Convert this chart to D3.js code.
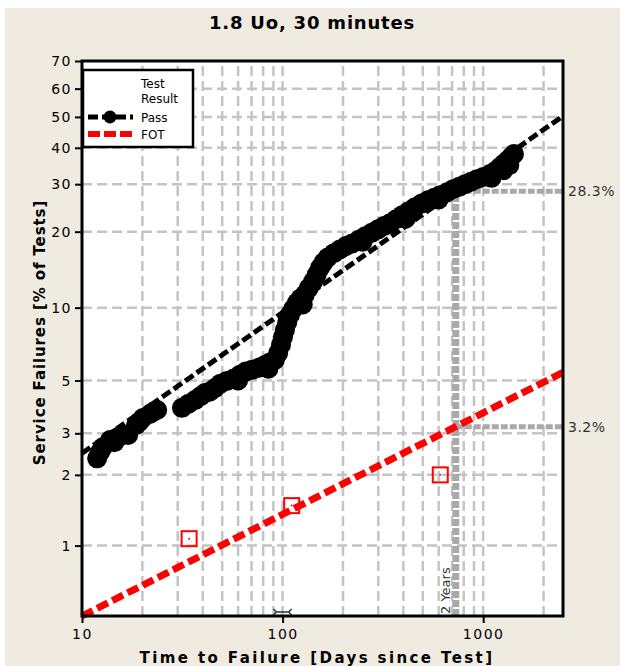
<!DOCTYPE html>
<html>
<head>
<meta charset="utf-8">
<script src="https://cdn.jsdelivr.net/npm/d3@7"></script>
<style>
  body { margin: 0; background: #fff; }
  svg { display: block; }
</style>
</head>
<body>
<div id="chart"></div>
<script>
// pass (service failures after passing test): days, % failed
const passDays = [11.9, 12.3, 12.7, 13.8, 14.5, 15.1, 16.0, 17.0, 18.6, 19.3, 20.1, 21.8, 22.7, 23.7,
  31.5, 34.0, 36.6, 39.0, 41.0, 43.5, 46.0, 49.0, 52.8, 57.0, 61.3, 65.5, 70.4, 76.0, 81.7, 86.5,
  91.6, 95.0, 98.2, 100.5, 102.8, 105.5, 108.9, 113, 118, 123, 129, 135, 142, 148, 154, 160, 168,
  180, 193, 207, 222, 240, 258, 278, 299, 320, 343, 368, 394, 425, 457, 493, 531, 570, 609, 658,
  707, 760, 812, 870, 931, 1000, 1081, 1150, 1213, 1270, 1329, 1380, 1424,
  60, 85, 126, 250, 410, 600, 1100, 1260, 1350];
const passPct = [2.35, 2.5, 2.62, 2.81, 2.75, 2.89, 2.95, 2.95, 3.25, 3.35, 3.48, 3.62, 3.70, 3.76,
  3.84, 4.00, 4.14, 4.30, 4.43, 4.50, 4.65, 4.85, 4.98, 5.10, 5.28, 5.45, 5.54, 5.65, 5.81, 5.95,
  6.10, 6.50, 7.04, 7.60, 8.12, 8.70, 9.36, 9.90, 10.48, 10.90, 11.29, 12.00, 12.74, 13.60, 14.49,
  15.20, 15.88, 16.50, 17.07, 17.60, 18.02, 18.60, 19.19, 19.80, 20.41, 21.00, 21.52, 22.30, 23.07,
  23.90, 24.73, 25.50, 26.24, 26.80, 27.37, 28.00, 28.78, 29.40, 30.00, 30.60, 31.26, 31.80, 32.56,
  33.40, 34.44, 35.40, 36.39, 37.30, 38.14,
  5.0, 5.6, 10.3, 18.3, 22.4, 26.4, 31.6, 33.6, 35.0];

// failed on test
const fotDays = [34.2, 111, 611];
const fotPct = [1.07, 1.48, 2.0];

// weibull fit lines (end points)
const passFit = [[10, 2.47], [2500, 50.3]];
const fotFit = [[10, 0.5], [2500, 5.41]];

// 2 year reference
const refDays = 730;
const refPct = [28.3, 3.2];

const xTicks = [10, 100, 1000];
const xGrid = [20, 30, 40, 50, 60, 70, 80, 90, 100, 200, 300, 400, 500, 600, 700, 800, 900, 1000, 2000];
const yTicks = [1, 2, 3, 5, 10, 20, 30, 40, 50, 60, 70];
const yGrid = [1, 2, 3, 5, 10, 20, 30, 40, 50, 60];

const W = 620, H = 666;
const pL = 82, pR = 563, pT = 61, pB = 616;

// weibull probability transform
const wb = p => Math.log(-Math.log(1 - p / 100));

const x = d3.scaleLog().domain([10, 2500]).range([pL, pR]);
const y = d3.scaleLinear().domain([wb(0.5), wb(70)]).range([pB, pT]);
const yp = p => y(wb(p));

const svg = d3.select("#chart").append("svg")
  .attr("width", W)
  .attr("height", H)
  .style("font-family", "'DejaVu Sans', Verdana, sans-serif");

// beige background
svg.append("rect")
  .attr("x", 5).attr("y", 8)
  .attr("width", W - 5).attr("height", H - 8)
  .attr("fill", "#efebe1");

svg.append("rect")
  .attr("x", pL).attr("y", pT)
  .attr("width", pR - pL).attr("height", pB - pT)
  .attr("fill", "#fff");

// grid
const grid = svg.append("g")
  .attr("stroke", "#c4c4c4")
  .attr("stroke-width", 2.5)
  .attr("stroke-dasharray", "10,5");

grid.selectAll(".vg")
  .data(xGrid)
  .join("line")
  .attr("x1", d => x(d)).attr("x2", d => x(d))
  .attr("y1", pB).attr("y2", pT);

grid.selectAll(".hg")
  .data(yGrid)
  .join("line")
  .attr("x1", pL).attr("x2", pR)
  .attr("y1", d => yp(d)).attr("y2", d => yp(d));

// reference lines at 2 years
const ref = svg.append("g")
  .attr("stroke", "#a9a9a9")
  .attr("fill", "none");

ref.append("line")
  .attr("x1", x(refDays)).attr("x2", x(refDays))
  .attr("y1", pB).attr("y2", yp(refPct[0]))
  .attr("stroke-width", 7)
  .attr("stroke-dasharray", "7,2");

ref.selectAll(".hr")
  .data(refPct)
  .join("line")
  .attr("x1", x(refDays)).attr("x2", pR)
  .attr("y1", d => yp(d)).attr("y2", d => yp(d))
  .attr("stroke-width", 5)
  .attr("stroke-dasharray", "7,2");

svg.selectAll(".reflab")
  .data(refPct)
  .join("text")
  .attr("x", pR + 5)
  .attr("y", d => yp(d) + 5)
  .attr("font-size", 14)
  .attr("letter-spacing", 0.5)
  .attr("fill", "#333")
  .text(d => d + "%");

svg.append("text")
  .attr("transform", `translate(${x(refDays) - 6},${pB - 2}) rotate(-90)`)
  .attr("font-size", 13)
  .attr("fill", "#333")
  .text("2 Years");

// fit lines
const line = d3.line()
  .x(d => x(d[0]))
  .y(d => yp(d[1]));

svg.append("path")
  .datum(passFit)
  .attr("d", line)
  .attr("fill", "none")
  .attr("stroke", "#000")
  .attr("stroke-width", 5)
  .attr("stroke-dasharray", "10,4");

svg.append("path")
  .datum(fotFit)
  .attr("d", line)
  .attr("fill", "none")
  .attr("stroke", "#ff0000")
  .attr("stroke-width", 7)
  .attr("stroke-dasharray", "12,5");

// pass points
svg.append("g")
  .selectAll("circle")
  .data(passDays.map((d, i) => [d, passPct[i]]))
  .join("circle")
  .attr("cx", d => x(d[0]))
  .attr("cy", d => yp(d[1]))
  .attr("r", 10)
  .attr("fill", "#000");

// FOT points
const sq = 15;
const fot = svg.append("g")
  .selectAll("g")
  .data(fotDays.map((d, i) => [d, fotPct[i]]))
  .join("g")
  .attr("transform", d => `translate(${x(d[0])},${yp(d[1])})`);
fot.append("rect")
  .attr("x", -sq / 2).attr("y", -sq / 2)
  .attr("width", sq).attr("height", sq)
  .attr("fill", "none")
  .attr("stroke", "#ff0000")
  .attr("stroke-width", 2);
fot.append("circle").attr("r", 1).attr("fill", "#ff0000");

// small bracket marker near bottom
const bx0 = x(90), bx1 = x(111), by = yp(0.52);
svg.append("path")
  .attr("d", `M${bx0},${by - 3}L${bx0 + 3},${by}L${bx0},${by + 3}M${bx0 + 3},${by}H${bx1 - 3}M${bx1},${by - 3}L${bx1 - 3},${by}L${bx1},${by + 3}`)
  .attr("fill", "none")
  .attr("stroke", "#333")
  .attr("stroke-width", 1.5);

// frame
svg.append("rect")
  .attr("x", pL).attr("y", pT)
  .attr("width", pR - pL).attr("height", pB - pT)
  .attr("fill", "none")
  .attr("stroke", "#000")
  .attr("stroke-width", 3);

// axes
const yAxis = d3.axisLeft(y)
  .tickValues(yTicks.map(wb))
  .tickFormat((d, i) => yTicks[i])
  .tickSize(7)
  .tickPadding(3);

const gy = svg.append("g")
  .attr("transform", `translate(${pL},0)`)
  .call(yAxis);
gy.select(".domain").remove();
gy.selectAll(".tick line").attr("stroke", "#000").attr("stroke-width", 2);
gy.selectAll(".tick text")
  .attr("font-family", "'DejaVu Sans', Verdana, sans-serif")
  .attr("font-size", 14)
  .attr("letter-spacing", 1.5)
  .attr("fill", "#000");

const xAxis = d3.axisBottom(x)
  .tickValues(xTicks)
  .tickFormat(d3.format("d"))
  .tickSize(7)
  .tickPadding(6);

const gx = svg.append("g")
  .attr("transform", `translate(0,${pB})`)
  .call(xAxis);
gx.select(".domain").remove();
gx.selectAll(".tick line").attr("stroke", "#000").attr("stroke-width", 2);
gx.selectAll(".tick text")
  .attr("font-family", "'DejaVu Sans', Verdana, sans-serif")
  .attr("font-size", 14)
  .attr("letter-spacing", 1.5)
  .attr("fill", "#000");

// titles
svg.append("text")
  .attr("x", 312).attr("y", 29)
  .attr("text-anchor", "middle")
  .attr("font-size", 18)
  .attr("font-weight", "bold")
  .attr("letter-spacing", 0.8)
  .text("1.8 Uo, 30 minutes");

svg.append("text")
  .attr("x", 317).attr("y", 663)
  .attr("text-anchor", "middle")
  .attr("font-size", 15)
  .attr("font-weight", "bold")
  .attr("letter-spacing", 2.4)
  .text("Time to Failure [Days since Test]");

svg.append("text")
  .attr("transform", `translate(45,${(pT + pB) / 2 - 6}) rotate(-90)`)
  .attr("text-anchor", "middle")
  .attr("font-size", 15)
  .attr("font-weight", "bold")
  .attr("letter-spacing", 0.9)
  .text("Service Failures [% of Tests]");

// legend
const lg = svg.append("g");
lg.append("rect")
  .attr("x", 83).attr("y", 70)
  .attr("width", 110).attr("height", 77)
  .attr("fill", "#fff")
  .attr("stroke", "#000")
  .attr("stroke-width", 2.5);

const legText = [["Test", 88], ["Result", 103], ["Pass", 122], ["FOT", 139]];
lg.selectAll("text")
  .data(legText)
  .join("text")
  .attr("x", 141)
  .attr("y", d => d[1])
  .attr("font-size", 12)
  .text(d => d[0]);

lg.append("line")
  .attr("x1", 88).attr("x2", 133).attr("y1", 117).attr("y2", 117)
  .attr("stroke", "#000").attr("stroke-width", 5).attr("stroke-dasharray", "10,4");
lg.append("circle").attr("cx", 110).attr("cy", 117).attr("r", 6.5).attr("fill", "#000");

lg.append("line")
  .attr("x1", 88).attr("x2", 133).attr("y1", 134).attr("y2", 134)
  .attr("stroke", "#ff0000").attr("stroke-width", 6).attr("stroke-dasharray", "12,4");
</script>
</body>
</html>
